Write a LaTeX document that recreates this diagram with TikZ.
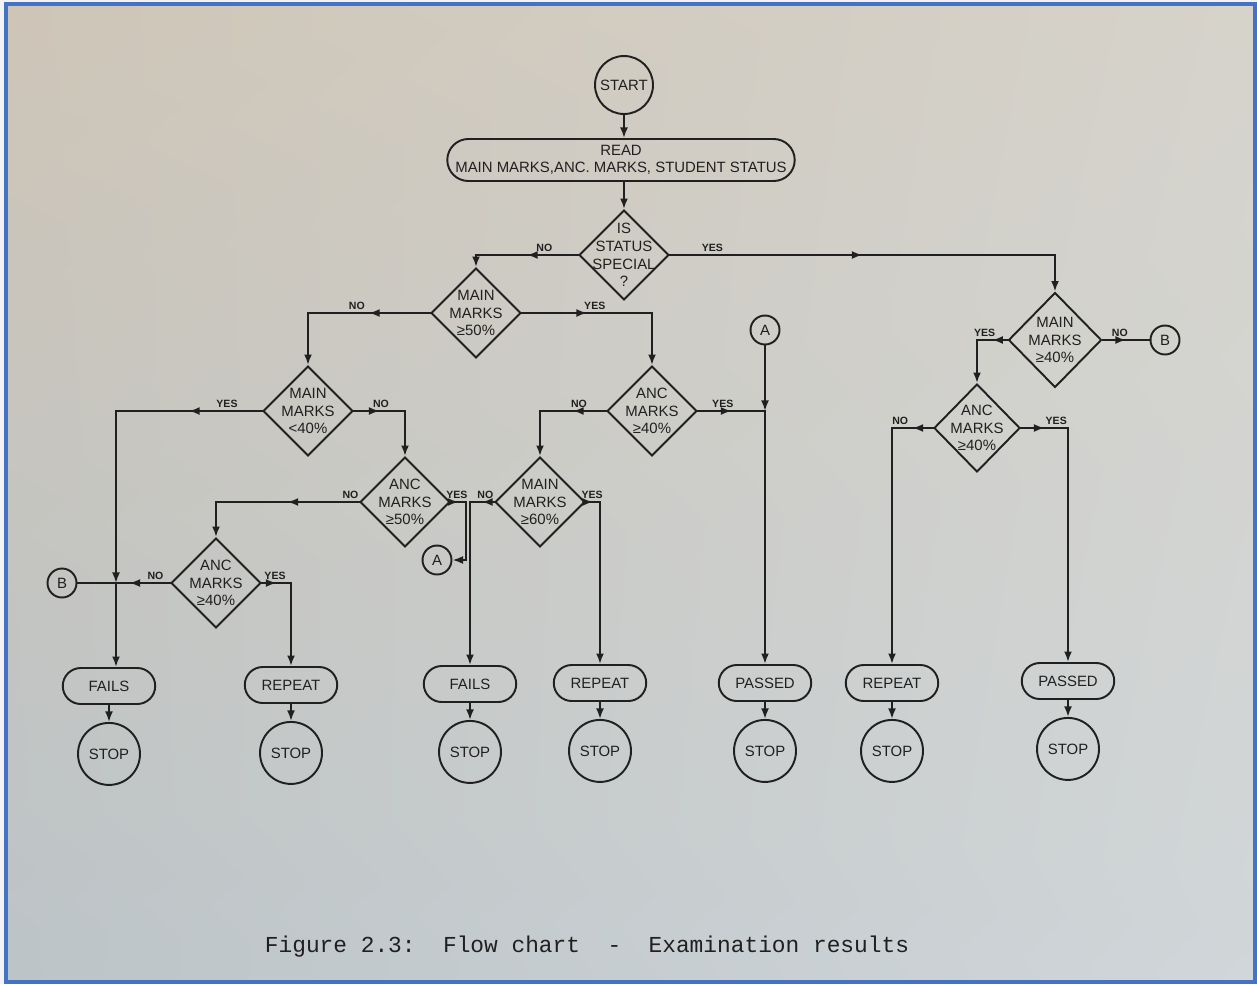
\documentclass[tikz,border=0pt]{standalone}
\usepackage{fontspec}
\setsansfont{Liberation Sans}
\setmonofont{Liberation Mono}
\usetikzlibrary{shapes.geometric,shapes.misc,arrows.meta,positioning,decorations.markings,shadings}
\definecolor{ink}{RGB}{32,32,32}
\definecolor{paperA}{RGB}{206,197,183}
\definecolor{paperB}{RGB}{214,211,203}
\definecolor{paperC}{RGB}{188,196,200}
\definecolor{paperD}{RGB}{208,214,217}
\definecolor{margin}{RGB}{243,243,243}
\definecolor{frame}{RGB}{68,114,196}
\tikzset{
  txt/.style={font=\sffamily\fontsize{8.5}{10}\selectfont},
  decide/.style={diamond,draw,txt,align=center,minimum width=1.8cm,minimum height=1.8cm,inner sep=-8pt},
  term/.style={rounded rectangle,draw,txt,minimum width=1.92cm,minimum height=0.72cm,inner sep=1pt},
  stopc/.style={circle,draw,txt,minimum size=1.24cm,inner sep=0pt},
  conn/.style={circle,draw,txt,minimum size=0.58cm,inner sep=0pt},
  lbl/.style={font=\sffamily\bfseries\fontsize{6}{7}\selectfont,above=0.5pt,inner sep=1pt},
  flowarr/.style={postaction={decorate},decoration={markings,mark=at position #1 with {\arrow{>}}}},
  flowarr/.default=0.5
}
\begin{document}
\begin{tikzpicture}[>={Latex[length=6pt,width=4.5pt]},x=0.02cm,y=-0.02cm,line width=1.1pt,line cap=rect,color=ink]
\useasboundingbox (0,0) rectangle (1257,984);
\fill[margin] (0,0) rectangle (1257,984);
\shade[upper left=paperA,upper right=paperB,lower left=paperC,lower right=paperD] (7,5) rectangle (1254,981);
\draw[frame,line width=2.5pt] (6,4) rectangle (1255,982);

\node[stopc,minimum size=1.16cm] (start) at (624,85) {START};
\node[term,align=center,minimum width=7.02cm,minimum height=0.84cm] (read) at (621,160) {READ\\MAIN MARKS,ANC. MARKS, STUDENT STATUS};
\node[decide] (d1) at (624,255) {IS\\STATUS\\SPECIAL\\?};
\node[decide] (d2) at (476,313) {MAIN\\MARKS\\≥50\%};
\node[decide] (d3) at (308,411) {MAIN\\MARKS\\<40\%};
\node[decide] (d4) at (405,502) {ANC\\MARKS\\≥50\%};
\node[decide] (d5) at (652,411) {ANC\\MARKS\\≥40\%};
\node[decide] (d6) at (216,583) {ANC\\MARKS\\≥40\%};
\node[decide] (d7) at (540,502) {MAIN\\MARKS\\≥60\%};
\node[decide,minimum width=1.86cm,minimum height=1.9cm] (d8) at (1055,340) {MAIN\\MARKS\\≥40\%};
\node[decide,minimum width=1.72cm,minimum height=1.76cm] (d9) at (977,428) {ANC\\MARKS\\≥40\%};

\node[conn] (a1) at (437,560) {A};
\node[conn] (a2) at (765,330) {A};
\node[conn] (b1) at (62,583) {B};
\node[conn] (b2) at (1165,340) {B};
\coordinate (jb) at (116,583);

\node[term] (f1) at (109,686) {FAILS};
\node[term] (r1) at (291,685) {REPEAT};
\node[term] (f2) at (470,684) {FAILS};
\node[term] (r2) at (600,683) {REPEAT};
\node[term] (p1) at (765,683) {PASSED};
\node[term] (r3) at (892,683) {REPEAT};
\node[term] (p2) at (1068,681) {PASSED};
\foreach \t/\s in {f1/s1,r1/s2,f2/s3,r2/s4,p1/s5,r3/s6,p2/s7}{
  \node[stopc,below=0.34cm of \t] (\s) {STOP};
  \draw[->] (\t) -- (\s);
}

\draw[->] (start) -- (start |- read.north);
\draw[->] (read.south -| d1) -- (d1);
\draw[flowarr] (d1.west) -- node[lbl,pos=.33] {NO} (d1.west -| d2);
\draw[->] (d1.west -| d2) -- (d2);
\draw[flowarr] (d1.east) -- node[lbl,pos=.11] {YES} (d1.east -| d8);
\draw[->] (d1.east -| d8) -- (d8);

\draw[flowarr] (d2.west) -- node[lbl,pos=.6] {NO} (d2.west -| d3);
\draw[->] (d2.west -| d3) -- (d3);
\draw[flowarr] (d2.east) -- node[lbl,pos=.56] {YES} (d2.east -| d5);
\draw[->] (d2.east -| d5) -- (d5);

\draw[flowarr] (d3.west) -- node[lbl,pos=.24] {YES} (d3.west -| jb);
\draw[->] (d3.west -| jb) -- (jb);
\draw[->] (jb) -- (jb |- f1.north);
\draw[flowarr] (d3.east) -- node[lbl,pos=.53] {NO} (d3.east -| d4);
\draw[->] (d3.east -| d4) -- (d4);

\draw[flowarr] (d4.west) -- node[lbl,pos=.06] {NO} (d4.west -| d6);
\draw[->] (d4.west -| d6) -- (d6);
\draw[flowarr] (d4.east) -- node[lbl,pos=.4] {YES} ++(15,0) coordinate (c4);
\draw[->] (c4) |- (a1.east);

\draw[flowarr=.75] (d6.west) -- node[lbl,pos=.27] {NO} (jb);
\draw (b1) -- (jb);
\draw[flowarr] (d6.east) -- node[lbl,pos=.45] {YES} (d6.east -| r1);
\draw[->] (d6.east -| r1) -- (r1);

\draw[flowarr] (d5.west) -- node[lbl,pos=.41] {NO} (d5.west -| d7);
\draw[->] (d5.west -| d7) -- (d7);
\draw[flowarr] (d5.east) -- node[lbl,pos=.37] {YES} (d5.east -| a2);
\draw[->] (a2) -- (a2 |- d5.east);
\draw[->] (a2 |- d5.east) -- (p1);

\draw[flowarr] (d7.west) -- node[lbl,pos=.36] {NO} (d7.west -| f2);
\draw[->] (d7.west -| f2) -- (f2);
\draw[flowarr] (d7.east) -- node[lbl,pos=.44] {YES} (d7.east -| r2);
\draw[->] (d7.east -| r2) -- (r2);

\draw[flowarr] (d8.west) -- node[lbl,pos=.75] {YES} (d8.west -| d9);
\draw[->] (d8.west -| d9) -- (d9);
\draw[flowarr] (d8.east) -- node[lbl,pos=.37] {NO} (b2);

\draw[flowarr] (d9.west) -- node[lbl,pos=.8] {NO} (d9.west -| r3);
\draw[->] (d9.west -| r3) -- (r3);
\draw[flowarr] (d9.east) -- node[lbl,pos=.75] {YES} (d9.east -| p2);
\draw[->] (d9.east -| p2) -- (p2);

\node[font=\ttfamily\fontsize{13}{15}\selectfont] (caption) at (587,947) {Figure 2.3:\ \ Flow chart\ \ -\ \ Examination results};
\end{tikzpicture}
\end{document}
